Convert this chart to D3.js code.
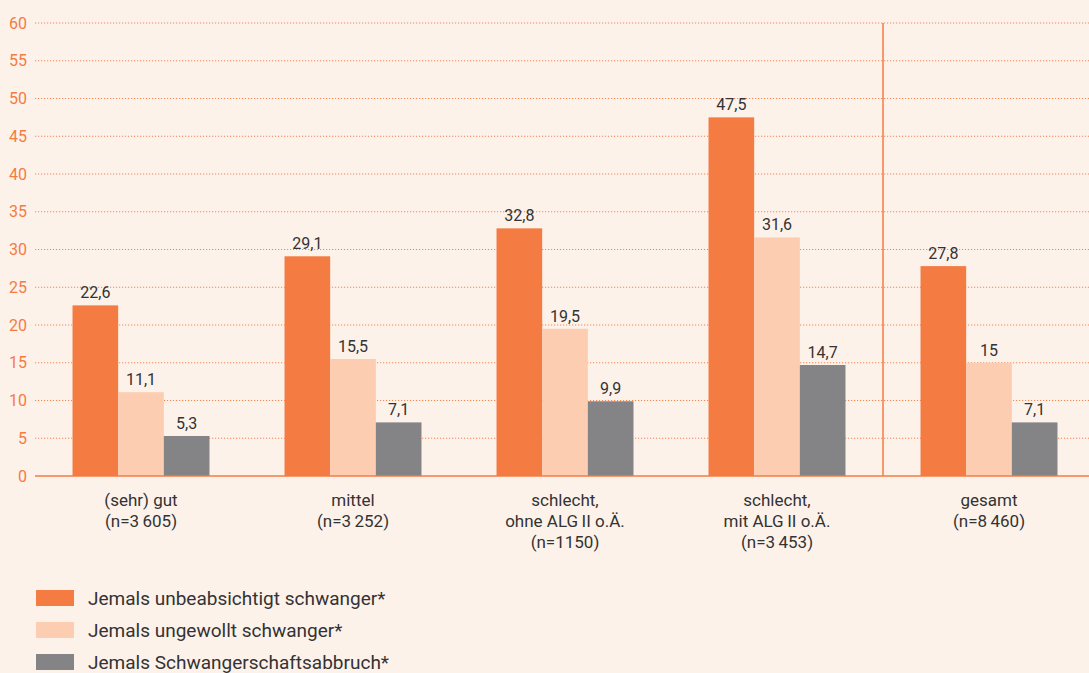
<!DOCTYPE html>
<html>
<head>
<meta charset="utf-8">
<script src="https://cdn.jsdelivr.net/npm/d3@7"></script>
<style>
  html, body { margin: 0; padding: 0; background: #fdf2ea; }
  svg { display: block; font-family: Roboto, "Noto Sans", sans-serif; }
</style>
</head>
<body>
<svg id="chart" width="1089" height="673"></svg>
<script>
var categories = [
    ["(sehr) gut", "(n=3\u2009605)"],
    ["mittel", "(n=3\u2009252)"],
    ["schlecht,", "ohne ALG\u2009II o.\u00c4.", "(n=1150)"],
    ["schlecht,", "mit ALG\u2009II o.\u00c4.", "(n=3\u2009453)"],
    ["gesamt", "(n=8\u2009460)"]
]
var seriesNames = [
    "Jemals unbeabsichtigt schwanger*",
    "Jemals ungewollt schwanger*",
    "Jemals Schwangerschaftsabbruch*"
]
var unbeabsichtigt = [22.6, 29.1, 32.8, 47.5, 27.8]
var ungewollt = [11.1, 15.5, 19.5, 31.6, 15]
var abbruch = [5.3, 7.1, 9.9, 14.7, 7.1]
var yTicks = [0, 5, 10, 15, 20, 25, 30, 35, 40, 45, 50, 55, 60]

var colors = ["#f47b42", "#fccdb0", "#848487"]
var orange = "#f47b42"

var svg = d3.select("#chart")
var plotLeft = 35, plotRight = 1095, plotTop = 23, plotBottom = 476

var x0 = d3.scaleBand().domain(d3.range(categories.length)).range([plotLeft, plotRight]).paddingInner(0).paddingOuter(0)
var innerW = x0.bandwidth() * 0.646
var x1 = d3.scaleBand().domain([0, 1, 2]).range([0, innerW])
var y = d3.scaleLinear().domain([0, 60]).range([plotBottom, plotTop])

// grid
svg.append("g").selectAll("line")
    .data(yTicks.filter(function(d){ return d > 0 }))
    .enter().append("line")
    .attr("x1", plotLeft).attr("x2", 1089)
    .attr("y1", function(d){ return y(d) }).attr("y2", function(d){ return y(d) })
    .attr("stroke", orange).attr("stroke-width", 1)
    .attr("stroke-dasharray", "1.2,1.8")
    .attr("opacity", 0.9)

// y axis labels
var yAxis = d3.axisLeft(y).tickValues(yTicks).tickSize(0).tickPadding(8)
var ya = svg.append("g").attr("transform", "translate(" + plotLeft + ",0)").call(yAxis)
ya.select(".domain").remove()
ya.selectAll("text").attr("fill", orange).style("font-size", "16px")
    .style("font-family", "Roboto, sans-serif")

// bars
var data = categories.map(function(c, i){
    return [unbeabsichtigt[i], ungewollt[i], abbruch[i]]
})
var groups = svg.append("g").selectAll("g")
    .data(data).enter().append("g")
    .attr("transform", function(d, i){
        return "translate(" + (x0(i) + (x0.bandwidth() - innerW) / 2) + ",0)"
    })
groups.selectAll("rect")
    .data(function(d){ return d })
    .enter().append("rect")
    .attr("x", function(d, j){ return x1(j) })
    .attr("width", x1.bandwidth())
    .attr("y", function(d){ return y(d) })
    .attr("height", function(d){ return y(0) - y(d) })
    .attr("fill", function(d, j){ return colors[j] })
groups.selectAll("text")
    .data(function(d){ return d })
    .enter().append("text")
    .attr("x", function(d, j){ return x1(j) + x1.bandwidth() / 2 })
    .attr("y", function(d){ return y(d) - 7 })
    .attr("text-anchor", "middle")
    .attr("fill", "#333333")
    .style("font-size", "16px")
    .text(function(d){ return String(d).replace(".", ",") })

// baseline
svg.append("line")
    .attr("x1", plotLeft).attr("x2", 1089)
    .attr("y1", y(0)).attr("y2", y(0))
    .attr("stroke", orange).attr("stroke-width", 1.5)

// separator before "gesamt"
svg.append("line")
    .attr("x1", x0(4)).attr("x2", x0(4))
    .attr("y1", y(60)).attr("y2", y(0))
    .attr("stroke", orange).attr("stroke-width", 1.5)

// category labels
var cl = svg.append("g").selectAll("text")
    .data(categories).enter().append("text")
    .attr("text-anchor", "middle")
    .attr("fill", "#333333")
    .style("font-size", "17px")
    .attr("x", function(d, i){ return x0(i) + x0.bandwidth() / 2 })
    .attr("y", 506)
cl.selectAll("tspan")
    .data(function(d){ return d })
    .enter().append("tspan")
    .attr("x", function(){ return d3.select(this.parentNode).attr("x") })
    .attr("dy", function(d, k){ return k === 0 ? 0 : 21 })
    .text(function(d){ return d })

// legend
var lg = svg.append("g").selectAll("g")
    .data(seriesNames).enter().append("g")
    .attr("transform", function(d, i){ return "translate(36," + (590 + i * 32) + ")" })
lg.append("rect").attr("width", 38).attr("height", 16)
    .attr("fill", function(d, i){ return colors[i] })
lg.append("text").attr("x", 52).attr("y", 15)
    .attr("fill", "#333333").style("font-size", "19px")
    .text(function(d){ return d })
</script>
</body>
</html>
